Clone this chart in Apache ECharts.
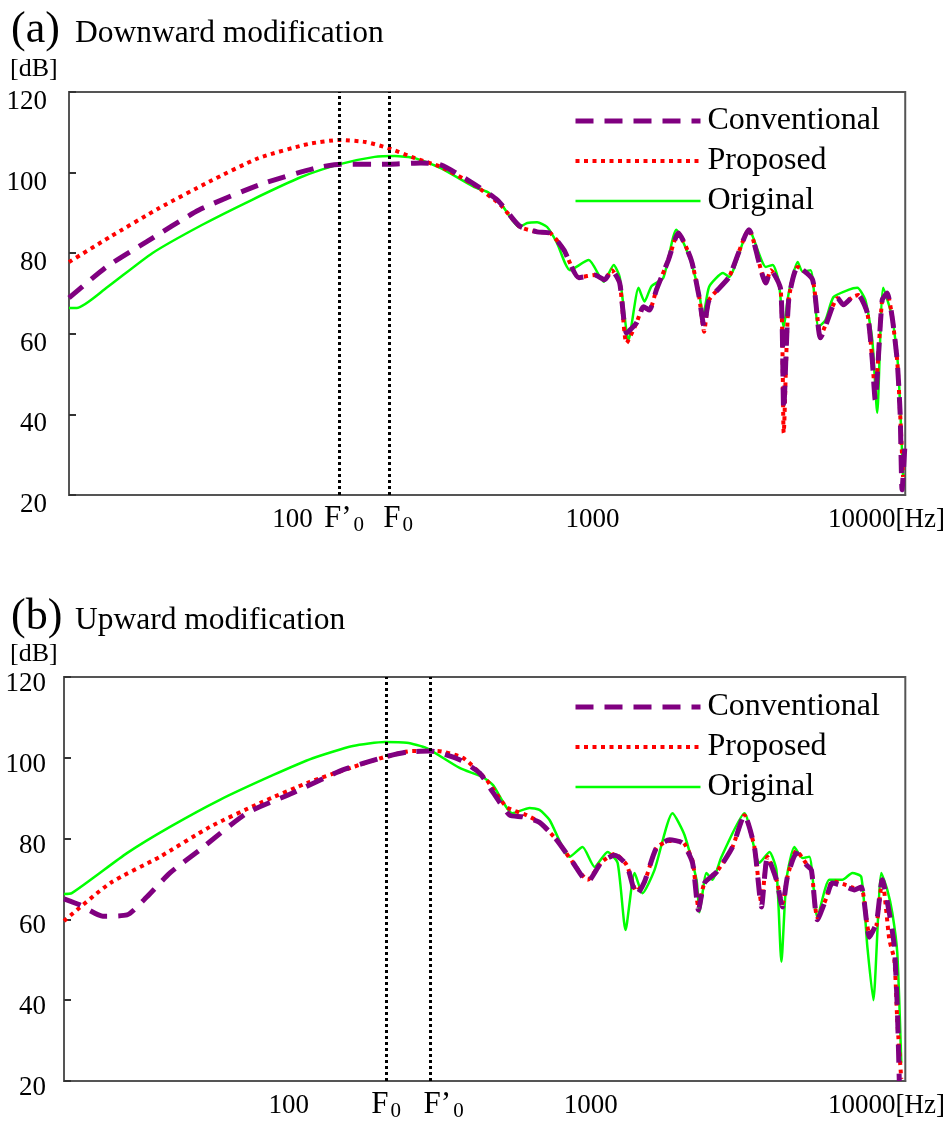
<!DOCTYPE html>
<html>
<head>
<meta charset="utf-8">
<script src="https://cdn.jsdelivr.net/npm/echarts@6/dist/echarts.min.js"></script>
<style>
html, body { margin: 0; padding: 0; background: #fff; }
#myChart { width: 948px; height: 1122px; }
</style>
</head>
<body>
<div id="myChart"></div>
<script>
// axis ranges
const hzMin = 18
const hzMax = 11025
const xTickHz = [100, 1000, 10000]
const dbMin = 20
const dbMax = 120
const dbStep = 20

// (a) downward modification
const aOrigHz = [18, 19.1, 24, 34.1, 49.9, 73.1, 107, 144, 188, 219, 256, 312, 404, 446, 493, 570, 606, 654, 706, 762, 841, 972, 1090, 1177, 1232, 1319, 1424, 1491, 1573, 1723, 1903, 2102, 2268, 2338, 2448, 2724, 2852, 3322, 3783, 3990, 4177, 4339, 4508, 4830, 5016, 5333, 5667, 5978, 6355, 7125, 7633, 8116, 8561, 8892, 9309, 9970, 10440, 10840]
const aOrigDb = [66.4, 66.4, 71.4, 80.0, 87.0, 93.2, 98.9, 102.1, 103.9, 104.1, 103.6, 101.1, 96.4, 95.2, 92.5, 86.5, 87.5, 87.7, 86.5, 82.5, 75.8, 78.3, 72.9, 77.1, 74.1, 58.5, 71.4, 68.0, 71.8, 73.9, 85.8, 79.1, 70.1, 64.2, 71.7, 75.1, 74.1, 85.8, 76.6, 77.1, 72.9, 61.7, 70.1, 77.8, 75.4, 75.8, 61.7, 63.4, 69.1, 70.9, 71.4, 68.4, 58.5, 40.4, 71.4, 64.2, 51.8, 24.5]
const aConvHz = [18, 24, 32.6, 48.8, 77.1, 119, 145, 213, 268, 312, 383, 482, 570, 654, 722, 803, 901, 1018, 1098, 1159, 1232, 1299, 1402, 1479, 1548, 1633, 1790, 1932, 2134, 2268, 2356, 2448, 2852, 3322, 3783, 3929, 4241, 4339, 4508, 4830, 5414, 5754, 6307, 6553, 6859, 7346, 7691, 8240, 8561, 8756, 9237, 9596, 9970, 10360, 10600, 10760, 11025]
const aConvDb = [68.9, 76.6, 82.8, 90.7, 96.9, 101.1, 102.1, 102.1, 102.4, 101.9, 98.2, 93.2, 86.8, 85.3, 85.0, 80.8, 73.9, 74.6, 73.4, 75.8, 72.6, 60.2, 62.7, 66.7, 65.9, 70.9, 78.3, 85.0, 78.3, 69.1, 61.7, 68.4, 74.1, 85.8, 72.6, 75.8, 70.9, 41.1, 68.4, 76.6, 73.4, 59.0, 66.7, 68.9, 67.2, 69.1, 69.6, 65.2, 53.5, 43.6, 68.4, 70.1, 64.2, 53.5, 40.4, 21.3, 33.7]
const aPropHz = [18, 24.6, 36, 52.7, 77.1, 113, 144, 175, 208, 256, 312, 404, 493, 574, 654, 722, 803, 901, 1018, 1098, 1159, 1232, 1299, 1402, 1479, 1548, 1633, 1790, 1932, 2134, 2268, 2356, 2448, 2852, 3322, 3783, 3929, 4241, 4339, 4508, 4830, 5414, 5754, 6307, 6553, 6859, 7346, 7691, 8240, 8561, 8756, 9237, 9596, 9970, 10360, 10600, 10840]
const aPropDb = [77.8, 84.0, 91.2, 97.7, 103.6, 107.1, 108.1, 107.6, 106.1, 103.6, 101.4, 96.9, 92.0, 86.5, 85.3, 85.0, 80.8, 74.0, 74.6, 73.4, 75.8, 72.6, 57.7, 62.7, 66.7, 65.9, 70.9, 78.3, 85.0, 78.3, 69.1, 60.5, 68.4, 74.1, 85.8, 72.6, 75.8, 70.9, 35.4, 68.4, 76.6, 73.4, 59.5, 66.7, 68.9, 67.2, 69.1, 69.6, 65.2, 53.5, 45.0, 68.4, 70.1, 64.2, 53.5, 40.4, 24.5]
const aF0 = 210
const aF0mod = 143

// (b) upward modification
const bOrigHz = [18, 19.1, 29.1, 40.4, 59.1, 88.5, 120, 163, 208, 246, 286, 368, 439, 474, 551, 628, 677, 731, 852, 940, 1030, 1138, 1228, 1305, 1398, 1485, 1627, 1867, 2046, 2242, 2294, 2419, 2532, 2713, 3232, 3624, 3910, 4125, 4285, 4452, 4730, 5028, 5304, 5637, 6178, 6822, 7361, 7881, 8254, 8639, 9182, 9610, 9985, 10370, 10690]
const bOrigDb = [66.3, 66.5, 76.4, 82.9, 89.6, 95.7, 99.9, 102.9, 103.9, 103.7, 102.4, 97.5, 95.2, 93.3, 86.3, 87.6, 87.1, 84.6, 75.5, 77.9, 73.0, 76.7, 74.0, 57.4, 71.5, 66.5, 72.2, 86.3, 80.9, 69.8, 61.8, 71.5, 69.8, 75.5, 86.3, 74.0, 76.7, 72.2, 49.5, 69.8, 77.9, 75.2, 75.5, 60.6, 69.8, 69.8, 71.5, 70.5, 53.2, 40.0, 71.5, 67.3, 61.6, 51.7, 24.5]
const bConvHz = [18, 20.3, 24.2, 29.1, 33.9, 40.4, 50.7, 72.6, 103, 151, 208, 246, 293, 368, 429, 474, 539, 595, 677, 771, 871, 977, 1087, 1200, 1315, 1419, 1508, 1652, 1825, 2015, 2175, 2276, 2382, 2611, 2949, 3232, 3487, 3680, 3852, 4125, 4318, 4486, 4805, 5184, 5385, 5637, 6039, 6320, 7033, 7474, 7881, 8380, 8840, 9250, 9760, 10140, 10370, 10530]
const bConvDb = [65.1, 63.6, 60.8, 61.1, 65.6, 71.5, 77.2, 86.3, 91.3, 97.0, 100.2, 101.4, 101.7, 99.5, 96.2, 91.5, 85.8, 85.4, 84.0, 79.7, 74.2, 69.3, 74.2, 75.9, 73.5, 66.0, 69.3, 77.7, 79.7, 78.9, 74.0, 62.3, 69.0, 71.7, 77.9, 85.8, 77.9, 63.1, 75.5, 69.8, 63.1, 70.5, 76.4, 73.5, 72.2, 59.9, 65.3, 69.0, 68.0, 67.3, 68.0, 55.6, 59.1, 69.8, 61.6, 53.2, 38.3, 20.0]
const bPropHz = [18, 25.6, 37.4, 54.8, 80.2, 117, 163, 208, 257, 309, 377, 452, 527, 613, 677, 771, 871, 977, 1087, 1200, 1315, 1419, 1508, 1652, 1825, 2015, 2175, 2276, 2382, 2611, 2949, 3232, 3487, 3680, 3852, 4125, 4318, 4486, 4805, 5184, 5385, 5637, 6039, 6320, 7033, 7474, 7881, 8380, 8840, 9250, 9760, 10140, 10370, 10690]
const bPropDb = [59.6, 69.0, 75.5, 82.9, 88.8, 94.0, 97.7, 100.2, 101.7, 101.7, 100.0, 94.5, 87.8, 85.8, 84.0, 79.7, 74.2, 69.8, 74.2, 76.2, 73.5, 67.0, 69.3, 77.7, 79.4, 79.2, 74.5, 63.0, 69.0, 71.7, 77.9, 85.8, 77.9, 64.0, 75.5, 69.8, 64.0, 70.5, 77.0, 73.8, 72.2, 60.5, 65.3, 69.5, 68.5, 67.8, 68.0, 56.5, 58.5, 69.8, 55.0, 50.0, 35.0, 20.5]
const bF0 = 210
const bF0mod = 295

const serif = '"Liberation Serif", "Times New Roman", serif'
const names = ['Conventional', 'Proposed', 'Original']
const styles = {
  Conventional: { color: '#800080', width: 5, type: [18, 11] },
  Proposed: { color: '#ff0000', width: 4, type: [4, 4.5] },
  Original: { color: '#00ff00', width: 2.5, type: 'solid' }
}

function pairs(hz, db) {
  return hz.map((f, i) => [f, db[i]])
}

function curve(name, panel, hz, db, z) {
  return {
    name: name,
    type: 'line',
    xAxisIndex: panel,
    yAxisIndex: panel,
    data: pairs(hz, db),
    symbol: 'none',
    smooth: 0.2,
    z: z,
    lineStyle: { color: styles[name].color, width: styles[name].width, type: styles[name].type, cap: 'butt' },
    itemStyle: { color: styles[name].color },
    emphasis: { disabled: true },
    animation: false
  }
}

// F0 label with subscript
function fLabel(prime, dx) {
  return { formatter: prime ? '{m|F\u2019}{s|0}' : '{m|F}{s|0}', offset: [dx, 0] }
}

function fMarks(f0, f0mod, dxF0, dxF0mod) {
  return {
    symbol: ['none', 'none'],
    silent: true,
    animation: false,
    lineStyle: { color: '#000', width: 3, type: [3, 3] },
    label: {
      position: 'start',
      distance: 6,
      rich: {
        m: { fontFamily: serif, fontSize: 31, color: '#000' },
        s: { fontFamily: serif, fontSize: 21, color: '#000', padding: [14, 0, 0, 2] }
      }
    },
    data: [
      { xAxis: f0mod, label: fLabel(true, dxF0mod) },
      { xAxis: f0, label: fLabel(false, dxF0) }
    ]
  }
}

function xAxis(panel) {
  return {
    type: 'log',
    logBase: 10,
    gridIndex: panel,
    min: hzMin,
    max: hzMax,
    axisLine: { show: true, lineStyle: { color: '#555', width: 2 } },
    axisTick: { show: false },
    splitLine: { show: false },
    axisLabel: {
      margin: 11,
      fontFamily: serif,
      fontSize: 27,
      color: '#000',
      formatter: v => {
        const hit = xTickHz.find(t => Math.abs(v - t) < 0.01 * t)
        if (!hit) return ''
        return hit === 10000 ? '{r|10000[Hz]}' : String(hit)
      },
      rich: { r: { fontFamily: serif, fontSize: 27, color: '#000', padding: [0, 12, 0, 0] } }
    }
  }
}

function yAxis(panel, margin, lh) {
  return {
    type: 'value',
    gridIndex: panel,
    position: 'left',
    min: dbMin,
    max: dbMax,
    interval: dbStep,
    axisLine: { show: true, onZero: false, lineStyle: { color: '#555', width: 2 } },
    axisTick: { show: true, inside: true, length: 7, lineStyle: { color: '#333', width: 2, type: 'solid' } },
    splitLine: { show: false },
    axisLabel: { margin: margin, fontFamily: serif, fontSize: 27, color: '#000', verticalAlign: 'top', lineHeight: lh }
  }
}

function legend(top) {
  return {
    data: names,
    orient: 'vertical',
    left: 573,
    top: top,
    padding: 0,
    itemWidth: 125,
    itemHeight: 14,
    itemGap: 8,
    selectedMode: false,
    lineStyle: { width: 'inherit' },
    itemStyle: { opacity: 0, borderWidth: 0 },
    textStyle: { fontFamily: serif, fontSize: 32, lineHeight: 32, color: '#000', padding: [0, 0, 0, 2] }
  }
}

function title(text, left, top, size) {
  return { text: text, left: left, top: top, padding: 0, textStyle: { fontFamily: serif, fontSize: size, fontWeight: 'normal', color: '#000' } }
}

const myChart = echarts.init(document.getElementById('myChart'))

const origA = curve('Original', 0, aOrigHz, aOrigDb, 2)
origA.markLine = fMarks(aF0, aF0mod, 9, 5)
const origB = curve('Original', 1, bOrigHz, bOrigDb, 2)
origB.markLine = fMarks(bF0, bF0mod, 0, 13)

const option = {
  animation: false,
  backgroundColor: '#fff',
  title: [
    title('(a)', 11, 8, 44),
    title('Downward modification', 75, 18, 31.5),
    title('[dB]', 10, 56, 26),
    title('(b)', 11, 595, 44),
    title('Upward modification', 75, 605, 31.5),
    title('[dB]', 10, 641, 26)
  ],
  legend: [legend(105), legend(691)],
  grid: [
    { left: 69, top: 92, width: 841, height: 403, show: true, borderColor: '#555', borderWidth: 2 },
    { left: 64, top: 677, width: 842, height: 404, show: true, borderColor: '#555', borderWidth: 2 }
  ],
  xAxis: [xAxis(0), xAxis(1)],
  yAxis: [yAxis(0, 22, 20), yAxis(1, 18, 14)],
  series: [
    origA,
    curve('Proposed', 0, aPropHz, aPropDb, 3),
    curve('Conventional', 0, aConvHz, aConvDb, 4),
    origB,
    curve('Proposed', 1, bPropHz, bPropDb, 3),
    curve('Conventional', 1, bConvHz, bConvDb, 4)
  ]
}

myChart.setOption(option)
</script>
</body>
</html>
